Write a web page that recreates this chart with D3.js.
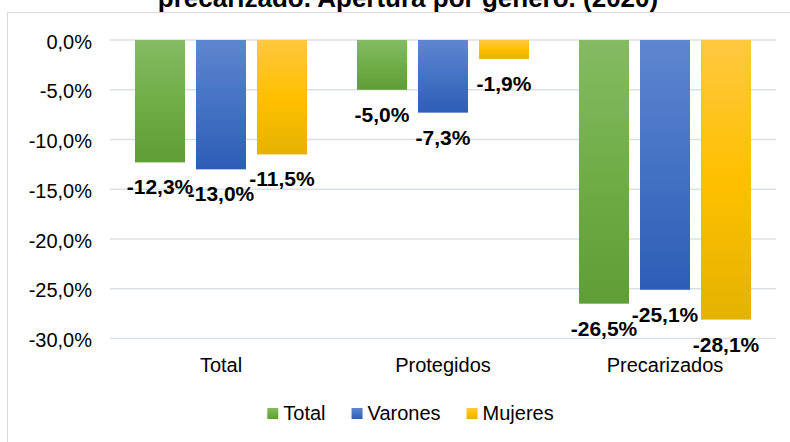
<!DOCTYPE html>
<html>
<head>
<meta charset="utf-8">
<script src="https://cdn.jsdelivr.net/npm/d3@7"></script>
<style>
  html, body { margin: 0; padding: 0; background: #fff; }
  svg { display: block; font-family: "Liberation Sans", Arial, sans-serif; }
</style>
</head>
<body>
<svg id="chart" width="790" height="442"></svg>
<script>
const title = "precarizado. Apertura por género. (2020)";
const categories = ["Total", "Protegidos", "Precarizados"];
const seriesNames = ["Total", "Varones", "Mujeres"];
const totalValues = [-12.3, -5.0, -26.5];
const varonesValues = [-13.0, -7.3, -25.1];
const mujeresValues = [-11.5, -1.9, -28.1];
const tickValues = [0, -5, -10, -15, -20, -25, -30];

const seriesValues = [totalValues, varonesValues, mujeresValues];
const colors = [
  ["#85bb63", "#70ad47", "#5f9d36"],
  ["#5f86d0", "#4472c4", "#2e5db6"],
  ["#ffc840", "#ffc000", "#e4b200"]
];

const svg = d3.select("#chart");
const fmt = v => d3.format(".1f")(v).replace("−", "-").replace(".", ",") + "%";

// gradients
const defs = svg.append("defs");
colors.forEach((c, i) => {
  const g = defs.append("linearGradient").attr("id", "grad" + i)
    .attr("x1", 0).attr("y1", 0).attr("x2", 0).attr("y2", 1);
  g.append("stop").attr("offset", "0%").attr("stop-color", c[0]);
  g.append("stop").attr("offset", "50%").attr("stop-color", c[1]);
  g.append("stop").attr("offset", "100%").attr("stop-color", c[2]);
});

// outer border
svg.append("rect").attr("x", 7.5).attr("y", 12.5).attr("width", 820).attr("height", 450)
  .attr("fill", "none").attr("stroke", "#d9d9d9").attr("stroke-width", 1);

// title (only bottom line visible)
svg.append("text").attr("x", 408).attr("y", 7).attr("text-anchor", "middle")
  .attr("font-size", 26).attr("font-weight", "bold").attr("fill", "#000").text(title);

const y = d3.scaleLinear().domain([-30, 0]).range([338.5, 40]);
const x0 = d3.scaleBand().domain(categories).range([110, 776]).paddingInner(0).paddingOuter(0);
const x1 = d3.scaleBand().domain(seriesNames).range([0, x0.bandwidth()]).paddingInner(0.18).paddingOuter(0.41);

// gridlines
svg.append("g").selectAll("line").data(tickValues).join("line")
  .attr("x1", 110).attr("x2", 776)
  .attr("y1", d => y(d)).attr("y2", d => y(d))
  .attr("stroke", "#dcdfe5").attr("stroke-width", 1.5);

// y axis labels
const yAxis = d3.axisLeft(y).tickValues(tickValues).tickFormat(fmt).tickSize(0).tickPadding(0);
const yg = svg.append("g").attr("transform", "translate(92,0)").call(yAxis);
yg.select(".domain").remove();
yg.selectAll("text").attr("font-size", 20).attr("fill", "#000")
  .attr("font-family", "Liberation Sans, Arial, sans-serif").attr("dy", "0.4em");

// bars
const groups = svg.append("g").selectAll("g").data(categories).join("g")
  .attr("transform", d => `translate(${x0(d)},0)`);

groups.each(function(cat, ci) {
  const g = d3.select(this);
  seriesNames.forEach((s, si) => {
    const v = seriesValues[si][ci];
    g.append("rect")
      .attr("x", x1(s)).attr("width", x1.bandwidth())
      .attr("y", y(0)).attr("height", y(v) - y(0))
      .attr("fill", `url(#grad${si})`);
  });
});

// data labels
groups.each(function(cat, ci) {
  const g = d3.select(this);
  seriesNames.forEach((s, si) => {
    const v = seriesValues[si][ci];
    g.append("text")
      .attr("x", x1(s) + x1.bandwidth() / 2)
      .attr("y", y(v) + 32)
      .attr("text-anchor", "middle")
      .attr("font-size", 21).attr("font-weight", "bold").attr("fill", "#000")
      .text(fmt(v));
  });
});

// x axis labels
const xAxis = d3.axisBottom(x0).tickSize(0).tickPadding(0);
const xg = svg.append("g").attr("transform", "translate(0,372)").call(xAxis);
xg.select(".domain").remove();
xg.selectAll("text").attr("font-size", 20).attr("fill", "#000").attr("dy", 0)
  .attr("font-family", "Liberation Sans, Arial, sans-serif");

// legend
const legend = svg.append("g");
const items = legend.selectAll("g").data(seriesNames).join("g");
items.append("rect").attr("width", 11).attr("height", 11).attr("y", 408)
  .attr("fill", (d, i) => `url(#grad${i})`);
items.append("text").attr("x", 16).attr("y", 420).attr("font-size", 20).attr("fill", "#000").text(d => d);
let widths = [];
items.each(function() { widths.push(16 + d3.select(this).select("text").node().getComputedTextLength()); });
const gap = 26;
const totalW = d3.sum(widths) + gap * (widths.length - 1);
let cx = 410.5 - totalW / 2;
items.each(function(d, i) {
  d3.select(this).attr("transform", `translate(${cx},0)`);
  cx += widths[i] + gap;
});
</script>
</body>
</html>
